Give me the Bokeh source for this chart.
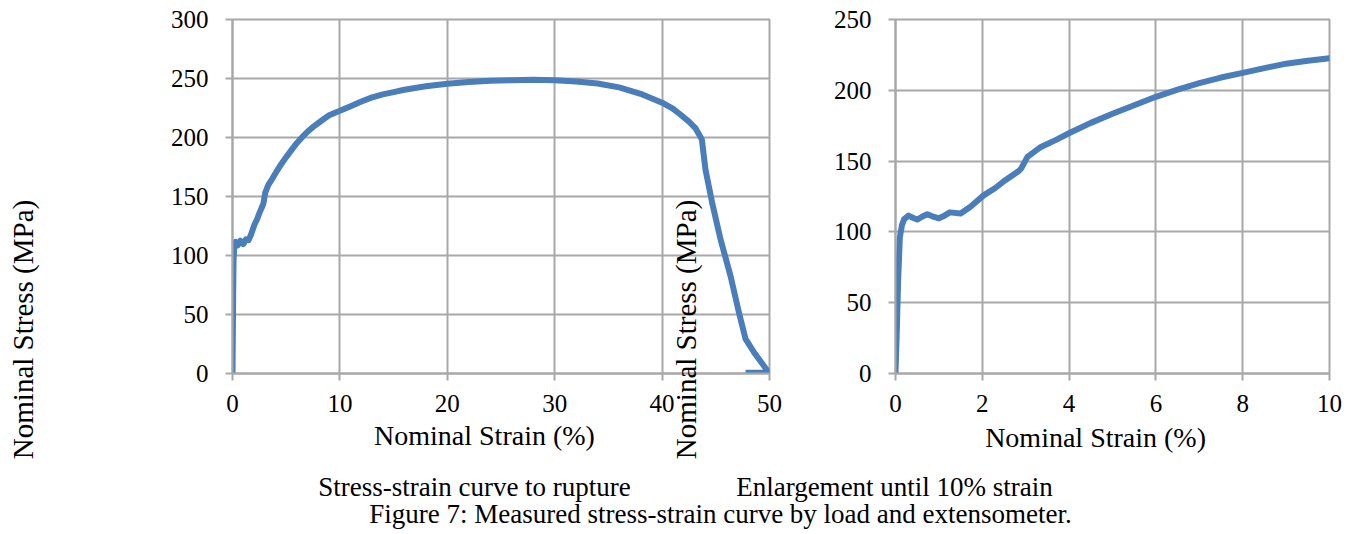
import math
from bokeh.plotting import figure
from bokeh.models import Range1d, Label, FixedTicker
from bokeh.layouts import row, column
from bokeh.embed import file_html
from bokeh.resources import INLINE

# ---- data ----
strain_pct = [0, 0.03, 0.06, 0.1, 0.15, 0.2, 0.3, 0.4, 0.5, 0.6, 0.73, 0.85, 1.0, 1.1, 1.25,
              1.5, 1.72, 2.03, 2.3, 2.53, 2.84, 2.9, 3.04, 3.35, 3.7, 4.02, 4.5, 5.0, 5.5, 6.0,
              6.5, 7.0, 7.5, 8.0, 8.5, 9.0, 9.5, 10.0, 11, 12, 13, 14, 15, 16, 18, 20, 22, 24,
              26, 28, 30, 32, 34, 36, 38, 40, 41, 41.7, 42.5, 43.1, 43.7, 44.04, 44.66, 45.44,
              46.37, 47.15, 47.77, 48.55, 49.95, 48.8, 47.77]
stress_mpa = [0, 30, 65, 96, 105, 109, 111.5, 110, 108.7, 110.5, 112.5, 111, 109.6, 111, 113.8,
              113, 117.6, 125.8, 131, 136.5, 143, 145, 153, 160, 165, 170, 177, 183.4, 189.5, 195.4,
              200.5, 205, 209, 212.3, 215.7, 218.8, 220.8, 222.6, 226.5, 230.5, 234, 236.5, 238.5,
              240.5, 243.5, 245.5, 247, 248, 248.5, 249, 248.5, 247.5, 245.8, 242.5, 237, 229.5,
              224.5, 219.5, 213.5, 208, 198.4, 172.8, 144.7, 113.7, 82.7, 51.8, 29.3, 18, 0.6,
              0.6, 0.6]

left_x_ticks = [0, 10, 20, 30, 40, 50]
left_y_ticks = [0, 50, 100, 150, 200, 250, 300]
right_x_ticks = [0, 2, 4, 6, 8, 10]
right_y_ticks = [0, 50, 100, 150, 200, 250]

x_title = "Nominal Strain (%)"
y_title = "Nominal Stress (MPa)"
caption_left = "Stress-strain curve to rupture"
caption_right = "Enlargement until 10% strain"
caption_fig = "Figure 7: Measured stress-strain curve by load and extensometer."

FONT = "Liberation Serif"
GRID = "#a8a8a8"
LINE = "#4a7ebb"


def style(p, xt, yt):
    p.xaxis.ticker = FixedTicker(ticks=xt)
    p.yaxis.ticker = FixedTicker(ticks=yt)
    for ax in (p.xaxis, p.yaxis):
        ax.axis_line_color = GRID
        ax.axis_line_width = 2
        ax.major_tick_line_color = GRID
        ax.major_tick_line_width = 2
        ax.major_tick_in = 0
        ax.major_tick_out = 7
        ax.minor_tick_line_color = None
        ax.major_label_text_font = FONT
        ax.major_label_text_font_size = "25px"
        ax.major_label_text_color = "black"
    p.yaxis.major_label_standoff = 17
    p.xaxis.major_label_standoff = 14
    p.xgrid.ticker = FixedTicker(ticks=xt)
    p.ygrid.ticker = FixedTicker(ticks=yt)
    p.grid.grid_line_color = GRID
    p.grid.grid_line_width = 2
    p.outline_line_color = GRID
    p.outline_line_width = 2
    p.background_fill_color = "white"
    p.border_fill_color = "white"


def lab(x, y, text, size="28px", angle=0.0):
    return Label(x=x, y=y, text=text, text_font=FONT, text_font_size=size,
                 text_align="center", text_baseline="middle", angle=angle, text_color="black")


# ---- left plot: full curve ----
p1 = figure(width=790, height=470, x_range=Range1d(0, 50), y_range=Range1d(0, 300),
            output_backend="svg", toolbar_location=None,
            min_border_left=232, min_border_right=21, min_border_top=19, min_border_bottom=95)
style(p1, left_x_ticks, left_y_ticks)
p1.line(strain_pct, stress_mpa, line_color=LINE, line_width=6, line_join="round")

# labels placed in side panels so they are not clipped to the plot frame
p1.add_layout(lab(23.46, -52.5, x_title), "below")
p1.add_layout(lab(-19.55, 37.3, y_title, size="29px", angle=math.pi / 2), "left")
p1.add_layout(lab(42.27, 37.3, y_title, size="29px", angle=math.pi / 2), "left")

# ---- right plot: enlargement to 10% ----
p2 = figure(width=563, height=470, x_range=Range1d(0, 10), y_range=Range1d(0, 250),
            output_backend="svg", toolbar_location=None,
            min_border_left=105, min_border_right=24, min_border_top=19, min_border_bottom=97)
style(p2, right_x_ticks, right_y_ticks)
p2.line(strain_pct, stress_mpa, line_color=LINE, line_width=6, line_join="round")
p2.add_layout(lab(4.61, -45, x_title), "below")

# ---- caption strip ----
p3 = figure(width=1353, height=64, x_range=Range1d(0, 1353), y_range=Range1d(0, 64),
            output_backend="svg", toolbar_location=None,
            x_axis_location=None, y_axis_location=None, min_border=0)
p3.grid.visible = False
p3.outline_line_color = None
p3.background_fill_color = "white"
p3.border_fill_color = "white"
for txt, cx, cy in [(caption_left, 474, 48), (caption_right, 894, 48), (caption_fig, 720, 21)]:
    p3.add_layout(lab(cx, cy, txt, size="27px"))

layout = column(row(p1, p2), p3)
open("out.html", "w").write(file_html(layout, INLINE))
